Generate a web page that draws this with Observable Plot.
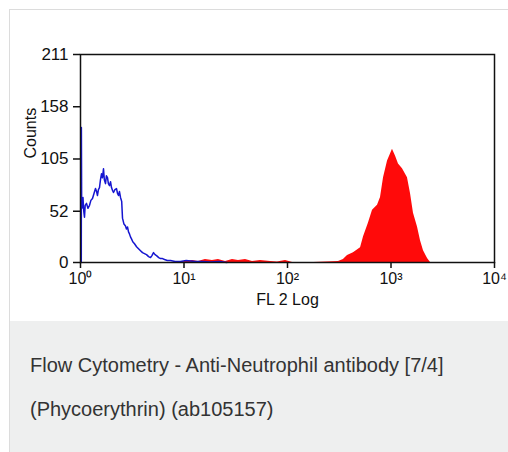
<!DOCTYPE html>
<html>
<head>
<meta charset="utf-8">
<script src="https://cdn.jsdelivr.net/npm/d3@7"></script>
<script src="https://cdn.jsdelivr.net/npm/@observablehq/plot@0.6"></script>
<style>
  html, body { margin: 0; padding: 0; background: #ffffff; width: 508px; height: 452px; overflow: hidden; }
  body { position: relative; font-family: "Liberation Sans", Arial, sans-serif; }
  #card { position: absolute; left: 9px; top: 9px; width: 520px; height: 460px; border: 1px solid #dcdcdc; background: #ffffff; }
  #caption { position: absolute; left: 10px; top: 321px; width: 520px; height: 140px; background: #eeefef;
             box-sizing: border-box; padding: 22px 0 0 20px; font-size: 20px; line-height: 44px; color: #333333; }
  #chart { position: absolute; left: 0; top: 0; }
  #chart svg { background: transparent; }
</style>
</head>
<body>
<div id="card"></div>
<div id="caption">Flow Cytometry - Anti-Neutrophil antibody [7/4]<br>(Phycoerythrin) (ab105157)</div>
<div id="chart"></div>
<script>
// FL2 channel values (linear units, log axis) and event counts
const blueFL = [1.018, 1.02, 1.026, 1.034, 1.045, 1.057, 1.075, 1.093, 1.11, 1.143, 1.18, 1.222, 1.26, 1.306, 1.35, 1.396, 1.43, 1.459, 1.49, 1.526, 1.56, 1.595, 1.63, 1.668, 1.70, 1.744, 1.78, 1.823, 1.86, 1.906, 1.95, 1.993, 2.04, 2.083, 2.15, 2.228, 2.28, 2.329, 2.38, 2.435, 2.50, 2.546, 2.63, 2.722, 2.78, 2.845, 2.91, 2.974, 3.04, 3.110, 3.2, 3.325, 3.48, 3.635, 3.8, 3.973, 4.15, 4.343, 4.55, 4.748, 4.9, 5.076, 5.25, 5.427, 5.7, 5.932, 6.2, 6.485, 6.9, 7.411, 8.2, 9.25, 10.5, 12.9, 15.0, 18.0, 22.0, 26.0];
const blueCount = [0, 137, 60, 55, 64, 66, 52, 46, 58, 60, 55, 58, 63, 65, 70, 75, 72, 68, 74, 76, 84, 90, 86, 95, 84, 80, 88, 86, 80, 78, 82, 76, 73, 71, 74, 75, 70, 68, 72, 66, 62, 45, 39, 37, 34, 36, 31, 29, 26, 24, 21, 19, 16, 14, 12, 10, 9, 8, 6, 5, 7, 10, 8, 7, 5, 4, 4, 3, 2, 2, 1, 1, 2, 1, 1, 0.5, 1, 0];

const redFL = [9.0, 10.3, 12.1, 13.8, 16.1, 18.8, 21.5, 25.2, 29.4, 33.6, 39.3, 45.9, 54.8, 68.5, 80.0, 95.7, 112, 180, 311, 347, 380, 434, 508, 543, 606, 663, 741, 792, 847, 926, 989, 1033, 1105, 1181, 1291, 1443, 1543, 1649, 1803, 1928, 2061, 2254, 2409];
const redCount = [0, 1, 2, 1, 3, 2, 3, 1, 3, 2, 3, 1, 2, 1, 0.5, 2, 0, 0, 1, 3, 7, 10, 15, 26, 40, 53, 58, 66, 86, 103, 110, 115, 108, 100, 95, 86, 70, 50, 36, 22, 12, 4, 0];

const xTicks = [1, 10, 100, 1000, 10000];
const xTickLabels = ["10\u2070", "10\u00b9", "10\u00b2", "10\u00b3", "10\u2074"];
const yTicks = [0, 52, 105, 158, 211];
const xTitle = "FL 2 Log";
const yTitle = "Counts";

const blue = blueFL.map((fl, i) => ({fl, count: blueCount[i]}));
const red = redFL.map((fl, i) => ({fl, count: redCount[i]}));

const chart = Plot.plot({
  width: 508,
  height: 320,
  marginLeft: 80,
  marginRight: 14,
  marginTop: 54,
  marginBottom: 58,
  style: {fontFamily: "Liberation Sans, Arial, sans-serif", fontSize: "17px", color: "#111", background: "transparent"},
  x: {type: "log", domain: [1, 10000]},
  y: {domain: [0, 211]},
  marks: [
    Plot.areaY(red, {x: "fl", y: "count", fill: "#ff0a0a"}),
    Plot.lineY(blue, {x: "fl", y: "count", stroke: "#1515d0", strokeWidth: 1.5}),
    Plot.frame({stroke: "#111", strokeWidth: 1.5}),
    Plot.axisX({ticks: xTicks, tickFormat: d => xTickLabels[xTicks.indexOf(Math.round(d))], tickSize: 6, tickPadding: 4, fontSize: 16, label: null, stroke: "#111", strokeWidth: 1.5}),
    Plot.axisY({ticks: yTicks, tickFormat: d => String(d), tickSize: 7, tickPadding: 5, fontSize: 17, label: null, stroke: "#111", strokeWidth: 1.5}),
    Plot.text([xTitle], {frameAnchor: "bottom", dy: 42, fontSize: 16, fill: "#111"}),
    Plot.text([yTitle], {frameAnchor: "left", dx: -50, rotate: -90, fontSize: 16, fill: "#111"})
  ]
});
document.getElementById("chart").appendChild(chart);
</script>
</body>
</html>
